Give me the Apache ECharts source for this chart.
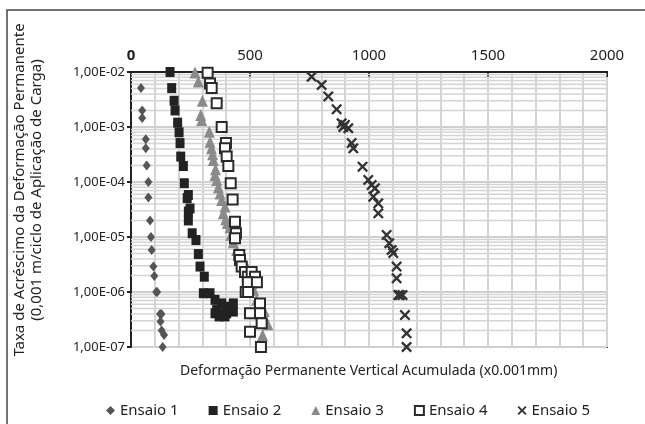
<!DOCTYPE html>
<html><head><meta charset="utf-8">
<script src="https://cdn.jsdelivr.net/npm/echarts@6/dist/echarts.min.js"></script>
<style>html,body{margin:0;padding:0;background:#fff}#c{width:645px;height:424px}</style>
</head><body><div id="c"></div>
<script>
// ---- data (x: deformação acumulada, y: taxa de acréscimo) ----
const xTicks = [0, 500, 1000, 1500, 2000];
const yDecades = [1e-2, 1e-3, 1e-4, 1e-5, 1e-6, 1e-7];
const seriesNames = ['Ensaio 1', 'Ensaio 2', 'Ensaio 3', 'Ensaio 4', 'Ensaio 5'];

const ensaio1 = [[42,5.1e-3],[47,2.0e-3],[47,1.45e-3],[62,6.0e-4],[62,4.1e-4],[66,2.0e-4],[73,1.0e-4],[73,5.2e-5],
  [80,2.0e-5],[84,1.0e-5],[87,5.8e-6],[94,2.9e-6],[98,1.95e-6],[106,1.0e-6],[110,1.0e-6],
  [122,4.0e-7],[128,4.0e-7],[124,2.9e-7],[129,2.0e-7],[139,1.65e-7],[133,1.0e-7]];

const ensaio2 = [[164,1.0e-2],[171,5.1e-3],[181,3.0e-3],[185,2.0e-3],[196,1.2e-3],[202,8.0e-4],[206,5.1e-4],[209,2.9e-4],
  [220,1.95e-4],[224,9.5e-5],[241,5.8e-5],[236,5.1e-5],[248,3.3e-5],[241,2.9e-5],[241,2.0e-5],[257,1.17e-5],
  [273,8.8e-6],[283,4.9e-6],[290,2.9e-6],[308,1.9e-6],[304,9.5e-7],[332,9.5e-7],[353,7.2e-7],[381,6.2e-7],
  [360,4.7e-7],[402,5.4e-7],[430,6.2e-7],[430,4.4e-7],[381,4.1e-7],[353,4.1e-7],[402,4.1e-7],[370,3.6e-7],[395,3.6e-7]];

const ensaio3 = [[269,9.8e-3],[283,6.7e-3],[300,3.0e-3],[293,1.65e-3],[297,1.34e-3],[329,8.2e-4],[332,5.4e-4],[338,4.1e-4],
  [343,3.2e-4],[346,2.5e-4],[355,1.7e-4],[353,1.34e-4],[360,1.09e-4],[367,8.0e-5],[374,6.2e-5],[381,4.7e-5],
  [395,3.6e-5],[388,2.7e-5],[398,2.1e-5],[405,1.8e-5],[416,1.5e-5],[420,1.1e-5],[430,8.0e-6],[444,5.8e-6],
  [455,4.5e-6],[470,3.6e-6],[486,2.9e-6],[495,2.1e-6],[507,1.44e-6],[515,1.1e-6],[528,7.2e-7],[540,5.4e-7],
  [560,4.5e-7],[575,2.6e-7],[553,1.65e-7]];

const ensaio4 = [[322,9.7e-3],[332,6.2e-3],[339,5.1e-3],[360,2.7e-3],[381,1.0e-3],[399,5.1e-4],[395,4.1e-4],[402,2.9e-4],
  [409,1.95e-4],[419,9.5e-5],[427,4.8e-5],[437,1.9e-5],[441,1.17e-5],[437,9.5e-6],[455,4.7e-6],[458,3.8e-6],
  [465,2.9e-6],[479,2.3e-6],[491,1.9e-6],[507,2.3e-6],[521,1.9e-6],[491,1.5e-6],[529,1.5e-6],[482,1.0e-6],
  [492,1.0e-6],[542,6.2e-7],[500,4.1e-7],[542,4.1e-7],[549,2.7e-7],[500,1.9e-7],[546,1.0e-7]];

const ensaio5 = [[759,8.2e-3],[801,5.8e-3],[829,3.6e-3],[864,2.1e-3],[885,1.17e-3],[899,1.09e-3],[913,9.5e-4],[892,1.0e-3],
  [927,5.1e-4],[934,4.1e-4],[973,1.9e-4],[997,1.09e-4],[1011,8.8e-5],[1025,7.7e-5],[1018,5.4e-5],[1039,4.1e-5],
  [1039,2.7e-5],[1074,1.09e-5],[1085,7.7e-6],[1095,5.8e-6],[1102,5.1e-6],[1116,2.9e-6],[1116,1.77e-6],
  [1123,8.8e-7],[1130,8.8e-7],[1141,8.8e-7],[1151,3.8e-7],[1158,1.77e-7],[1158,1.0e-7]];

// minor log grid values (2..9 per decade)
const minorMultipliers = [2,3,4,5,6,7,8,9];

const minorValues = [];
for (let d = 1; d < yDecades.length; d++) {
  for (const m of minorMultipliers) minorValues.push(m * yDecades[d]);
}

function fmtY(v) {
  const e = Math.round(Math.log10(v));
  const mant = v / Math.pow(10, e);
  const sign = e < 0 ? '-' : '+';
  const ab = Math.abs(e);
  return mant.toFixed(2).replace('.', ',') + 'E' + sign + (ab < 10 ? '0' + ab : ab);
}

const crossPath = 'path://M0,1.5L1.5,0L5,3.5L8.5,0L10,1.5L6.5,5L10,8.5L8.5,10L5,6.5L1.5,10L0,8.5L3.5,5Z';
const FONT = '"Noto Sans", "DejaVu Sans", sans-serif';

// minor horizontal grid lines as line series spanning the x range
const minorSeries = minorValues.map(v => ({
  type: 'line', name: '_m', data: [[xTicks[0], v], [xTicks[xTicks.length - 1], v]],
  symbol: 'none', silent: true, z: 1, legendHoverLink: false,
  lineStyle: {color: '#d4d4d4', width: 1.5}, itemStyle: {color: '#d4d4d4'}, tooltip: {show: false}
}));

const chart = echarts.init(document.getElementById('c'), null, {renderer: 'canvas'});
chart.setOption({
  animation: false,
  backgroundColor: '#fff',
  grid: {left: 131, top: 72, width: 476, height: 275, show: true, borderColor: '#222', borderWidth: 2, backgroundColor: 'transparent'},
  xAxis: {
    type: 'value', position: 'top', min: xTicks[0], max: xTicks[xTicks.length - 1], interval: 500,
    axisLine: {show: true, lineStyle: {color: '#222', width: 2}},
    axisTick: {show: true, inside: true, length: 5, lineStyle: {color: '#222', width: 2}},
    axisLabel: {
      margin: 9, color: '#222', fontSize: 15, fontFamily: FONT,
      formatter: v => v === 0 ? '{b|0}' : String(v),
      rich: {b: {fontWeight: 'bold', fontSize: 15, fontFamily: FONT, color: '#222'}}
    },
    splitLine: {show: true, lineStyle: {color: '#d4d4d4', width: 2}},
    minorTick: {show: false, splitNumber: 5},
    minorSplitLine: {show: true, lineStyle: {color: '#d4d4d4', width: 2}}
  },
  yAxis: {
    type: 'log', logBase: 10, min: yDecades[yDecades.length - 1], max: yDecades[0],
    axisLine: {show: true, lineStyle: {color: '#222', width: 2}},
    axisTick: {show: true, length: 4, lineStyle: {color: '#222', width: 2}},
    axisLabel: {color: '#222', fontSize: 13, fontFamily: FONT, margin: 6, formatter: fmtY},
    splitLine: {show: true, lineStyle: {color: '#cfcfcf', width: 2}}
  },
  legend: {
    data: seriesNames, bottom: 6, left: 106, itemGap: 30, itemWidth: 9, itemHeight: 9,
    textStyle: {color: '#222', fontSize: 15, fontFamily: FONT}, padding: 0
  },
  series: minorSeries.concat([
    {type: 'scatter', name: seriesNames[0], data: ensaio1, symbol: 'diamond', symbolSize: [8, 10],
      itemStyle: {color: '#555', opacity: 1}, z: 3},
    {type: 'scatter', name: seriesNames[1], data: ensaio2, symbol: 'rect', symbolSize: [9, 10],
      itemStyle: {color: '#222', opacity: 1}, z: 4},
    {type: 'scatter', name: seriesNames[2], data: ensaio3, symbol: 'triangle', symbolSize: [11, 12],
      itemStyle: {color: '#8a8a8a', opacity: 1}, z: 5},
    {type: 'scatter', name: seriesNames[3], data: ensaio4, symbol: 'rect', symbolSize: 10,
      itemStyle: {color: '#fff', borderColor: '#2a2a2a', borderWidth: 2, opacity: 1}, z: 6},
    {type: 'scatter', name: seriesNames[4], data: ensaio5, symbol: crossPath, symbolSize: 11,
      itemStyle: {color: '#333', opacity: 1}, z: 7}
  ]),
  graphic: [
    {type: 'rect', shape: {x: 7, y: 10, width: 660, height: 440}, style: {fill: 'none', stroke: '#444', lineWidth: 1.5}, z: -10, silent: true},
    {type: 'text', x: 180, y: 371, style: {text: 'Deformação Permanente Vertical Acumulada (x0.001mm)', fill: '#222', font: '14px ' + FONT, textVerticalAlign: 'middle'}},
    {type: 'text', x: 20, y: 190, rotation: Math.PI / 2, style: {text: 'Taxa de Acréscimo da Deformação Permanente', fill: '#222', font: '15px ' + FONT, textAlign: 'center', textVerticalAlign: 'middle'}},
    {type: 'text', x: 37, y: 190, rotation: Math.PI / 2, style: {text: '(0,001 m/ciclo de Aplicação de Carga)', fill: '#222', font: '15px ' + FONT, textAlign: 'center', textVerticalAlign: 'middle'}}
  ]
});
</script>
</body></html>
